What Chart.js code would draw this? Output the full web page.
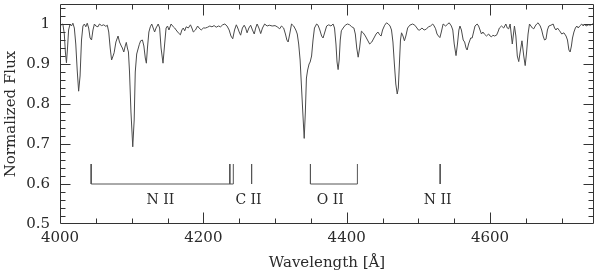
<!DOCTYPE html>
<html><head><meta charset="utf-8">
<script src="https://cdn.jsdelivr.net/npm/chart.js@4.4.1/dist/chart.umd.min.js"></script>
<style>html,body{margin:0;padding:0;background:#fff}#wrap{width:600px;height:274px;position:relative}</style>
</head><body><div id="wrap"><canvas id="c"></canvas></div>
<script>
// Spectrum: wavelength [Å] and normalized flux
const wavelength = [
4000,4002,4004,4006,4007.5,4009,4010.5,4012,4014,4016,4018,4020,4022,4024,4026,4028,4030,4032,4034,4036,4038,4040,4042,4044,4046,4048,4050,4053,4055,4058,4061,4064,4066,4068,4070,4072,4074,4075.5,4078,4081,4083,4085.5,4087,4089,4091,4092.5,4094,4095.5,4097,4099,4101.5,4103.5,4105,4107,4108.5,4110.5,4112.5,4115,4117,4119,4120.5,4122,4124,4126,4128,4130,4132,4134,4137,4139,4141,4143.7,4146,4148,4150,4152,4155,4158,4160,4162,4165,4168,4170,4172,4174,4176,4179,4182,4184,4186,4189,4192,4194,4197,4200,4203,4206,4209,4212,4215,4218,4221,4224,4227,4230,4233,4236,4238.5,4241,4243.5,4246,4248,4250,4252,4254.5,4257,4259,4261,4263.5,4266,4268.5,4271,4273,4275,4277.5,4280,4282.5,4285.5,4289,4292,4296,4300,4303,4306.5,4309,4312,4314.5,4316.5,4318.3,4320.5,4323,4326,4329,4331,4333,4335,4337,4339,4340.7,4342.3,4343.8,4345.5,4347.5,4349,4351,4353,4355,4358,4360,4362.5,4365,4367,4369.5,4372,4375,4378,4381,4383,4385,4386.5,4388,4389.5,4391,4392.5,4395,4398,4401,4404,4407,4410,4412,4414,4416,4418,4420.5,4423,4426,4429,4432,4435,4438,4441,4443.5,4446,4448,4450,4453,4455.5,4458,4460.5,4462.5,4464.5,4466.5,4468.5,4470.5,4472,4473.5,4475,4476.5,4478.5,4480.5,4482.5,4485,4488,4492,4495,4498,4500,4502,4505,4508,4511,4514,4517,4520,4522,4524,4526,4528,4530,4532,4534.5,4538,4541,4543,4546,4548,4550,4552.5,4554.5,4556.5,4558,4560,4562.5,4564.5,4566.5,4568,4570,4573,4575,4577,4579,4582,4584,4586,4588,4590,4592,4595,4598,4600,4602,4604,4606,4609,4611,4613,4616,4619,4622,4624,4626,4628,4631,4634,4636,4638,4640,4642,4644.5,4647,4649,4651,4653,4655,4657,4659,4661,4663,4665,4667,4670,4672,4674,4676,4678,4680,4682,4685,4688,4690,4692,4694,4697,4700,4703,4706,4708,4710,4711.7,4713.5,4715,4717,4719,4721,4723,4725,4728,4730,4732,4734,4737,4740,4743,4745
];
const flux = [
1.000,0.998,1.000,0.975,0.930,0.903,0.940,0.985,1.000,0.995,1.002,0.990,0.950,0.885,0.832,0.870,0.960,0.995,1.000,0.993,1.002,0.990,0.965,0.960,0.985,1.000,0.995,0.993,1.000,0.996,0.998,0.994,0.997,0.980,0.940,0.910,0.920,0.928,0.955,0.970,0.955,0.945,0.940,0.930,0.945,0.954,0.940,0.930,0.880,0.780,0.693,0.760,0.880,0.925,0.935,0.948,0.958,0.960,0.945,0.915,0.902,0.940,0.980,0.993,1.000,0.990,0.980,0.990,1.000,0.990,0.940,0.902,0.950,0.990,0.995,0.985,1.000,0.993,0.990,0.985,0.978,0.973,0.985,0.990,0.983,0.993,0.990,0.998,0.990,0.980,0.985,0.995,0.990,0.985,0.990,0.990,0.992,0.995,0.993,0.996,0.992,0.995,0.993,0.998,1.000,0.995,0.985,0.970,0.963,0.985,0.998,0.990,0.980,0.972,0.990,0.997,0.990,0.978,0.990,0.997,0.985,0.975,0.990,1.000,0.990,0.976,0.990,1.000,0.995,0.997,0.995,0.996,0.993,0.988,0.995,0.990,0.975,0.960,0.955,0.975,1.000,0.995,0.985,0.975,0.950,0.910,0.840,0.770,0.714,0.780,0.865,0.885,0.900,0.905,0.920,0.960,0.990,1.000,0.997,0.985,0.970,0.965,0.980,0.995,0.998,0.995,1.000,0.990,0.950,0.905,0.886,0.910,0.960,0.983,0.990,0.997,1.000,0.998,0.993,0.990,0.975,0.940,0.917,0.940,0.982,0.978,0.970,0.960,0.950,0.955,0.965,0.975,0.980,0.973,0.970,0.985,0.997,1.003,1.000,0.995,0.985,0.955,0.900,0.850,0.825,0.840,0.900,0.960,0.978,0.970,0.958,0.970,0.990,0.997,1.000,0.997,0.990,0.985,0.985,0.990,0.985,0.987,0.993,0.995,1.000,0.995,0.988,0.975,0.970,0.966,0.980,1.000,0.995,1.000,1.003,0.995,0.985,0.950,0.921,0.950,0.985,0.995,0.985,0.960,0.955,0.940,0.935,0.950,0.965,0.965,0.980,0.995,1.000,0.995,0.985,0.975,0.980,0.975,0.970,0.975,0.970,0.968,0.972,0.970,0.972,0.980,0.990,0.995,0.990,1.000,0.990,0.988,1.000,0.950,0.995,0.970,0.920,0.906,0.930,0.958,0.920,0.896,0.930,0.975,1.000,0.995,0.990,0.988,0.995,1.000,1.003,0.995,0.985,0.970,0.960,0.962,0.985,0.995,0.997,1.000,0.990,0.985,0.990,0.983,0.975,0.978,0.970,0.960,0.935,0.930,0.945,0.965,0.980,0.990,0.995,0.990,0.995,1.000,0.995,1.000,0.995,0.998,0.997,1.000,0.998
];

// Axis ranges and ticks
const xRange = [4000, 4745];
const yRange = [0.5, 1.05];
const xTicks = [4000, 4200, 4400, 4600];
const yTicks = [0.5, 0.6, 0.7, 0.8, 0.9, 1.0];
const yTickLabels = ['0.5', '0.6', '0.7', '0.8', '0.9', '1'];
const xMinorStep = 50;
const yMinorStep = 0.02;

// Line identifications (wavelengths of marker lines)
const markNII_a = [4043.5, 4236.9, 4241.8];
const markCII = [4267.3];
const markOII = [4349.4, 4414.9];
const markNII_b = [4530.4];
const markerLabels = ['N II', 'C II', 'O II', 'N II'];
const markerLabelX = [4140, 4263, 4377, 4527];
const markerTop = 0.65;
const markerBase = 0.6;
const markerLabelY = 0.558;

function markerPoints(group) {
  const pts = [];
  if (group.length > 1) {
    const lo = Math.min(...group), hi = Math.max(...group);
    pts.push({x: lo, y: markerTop}, {x: lo, y: markerBase}, {x: hi, y: markerBase}, {x: hi, y: markerTop}, {x: hi, y: null});
    group.filter(v => v !== lo && v !== hi).forEach(v => {
      pts.push({x: v, y: markerTop}, {x: v, y: markerBase}, {x: v, y: null});
    });
  } else {
    pts.push({x: group[0], y: markerTop}, {x: group[0], y: markerBase}, {x: group[0], y: null});
  }
  return pts;
}
const markerData = [markNII_a, markCII, markOII, markNII_b].flatMap(markerPoints);
const spectrum = wavelength.map((w, i) => ({x: w, y: flux[i]}));

const FONT = 'DejaVu Serif';
const INK = '#2a2a2a';

const frameTicks = {
  id: 'frameTicks',
  afterDatasetsDraw(chart) {
    const {ctx, chartArea: ca, scales: {x, y}} = chart;
    const L = Math.round(ca.left) + 0.5, R = Math.round(ca.right) - 0.5;
    const T = Math.round(ca.top) + 0.5, B = Math.round(ca.bottom) - 0.5;
    ctx.save();
    ctx.strokeStyle = '#333';
    ctx.lineWidth = 1;
    ctx.beginPath();
    ctx.rect(L, T, R - L, B - T);
    for (let v = xRange[0] + xMinorStep; v < xRange[1]; v += xMinorStep) {
      const px = Math.round(x.getPixelForValue(v)) + 0.5;
      const len = (v % 200 === 0) ? 11 : 5;
      ctx.moveTo(px, B); ctx.lineTo(px, B - len);
      ctx.moveTo(px, T); ctx.lineTo(px, T + len);
    }
    const n = Math.round((yRange[1] - yRange[0]) / yMinorStep);
    for (let i = 1; i < n; i++) {
      const v = yRange[0] + i * yMinorStep;
      const py = Math.round(y.getPixelForValue(v)) + 0.5;
      const len = (i % 5 === 0) ? 10 : 5;
      ctx.moveTo(L, py); ctx.lineTo(L + len, py);
      ctx.moveTo(R, py); ctx.lineTo(R - len, py);
    }
    ctx.stroke();
    ctx.fillStyle = INK;
    ctx.font = '14px "' + FONT + '"';
    ctx.textAlign = 'center';
    ctx.textBaseline = 'middle';
    markerLabels.forEach((t, i) => {
      ctx.fillText(t, x.getPixelForValue(markerLabelX[i]), y.getPixelForValue(markerLabelY));
    });
    ctx.restore();
  }
};

new Chart(document.getElementById('c'), {
  type: 'line',
  data: {
    datasets: [
      {data: spectrum, borderColor: '#4a4a4a', borderWidth: 1, pointRadius: 0, tension: 0, fill: false},
      {data: markerData, borderColor: '#555', borderWidth: 1, pointRadius: 0, tension: 0, fill: false, spanGaps: false}
    ]
  },
  options: {
    responsive: true,
    maintainAspectRatio: false,
    animation: false,
    layout: {padding: {top: 4, right: 6, bottom: 0, left: 0}},
    plugins: {legend: {display: false}, tooltip: {enabled: false}},
    scales: {
      x: {
        type: 'linear', min: xRange[0], max: xRange[1],
        grid: {display: false, drawTicks: false},
        border: {display: false},
        ticks: {color: INK, font: {family: FONT, size: 15}, padding: 5, maxRotation: 0, callback: v => String(v)},
        title: {display: true, text: 'Wavelength [Å]', color: INK, font: {family: FONT, size: 15}, padding: {top: 0, bottom: 2}},
        afterBuildTicks: s => { s.ticks = xTicks.map(v => ({value: v})); },
        afterFit: s => { s.height = 50; s.paddingLeft = 0; s.paddingRight = 0; }
      },
      y: {
        type: 'linear', min: yRange[0], max: yRange[1],
        grid: {display: false, drawTicks: false},
        border: {display: false},
        ticks: {color: INK, font: {family: FONT, size: 15}, padding: 10,
          callback: v => { const i = yTicks.findIndex(t => Math.abs(t - v) < 1e-6); return i >= 0 ? yTickLabels[i] : ''; }},
        title: {display: true, text: 'Normalized Flux', color: INK, font: {family: FONT, size: 15}, padding: {top: 2, bottom: 0}},
        afterBuildTicks: s => { s.ticks = yTicks.map(v => ({value: v})); },
        afterFit: s => { s.width = 60; s.paddingTop = 0; s.paddingBottom = 0; }
      }
    }
  },
  plugins: [frameTicks]
});
</script>
</body></html>
